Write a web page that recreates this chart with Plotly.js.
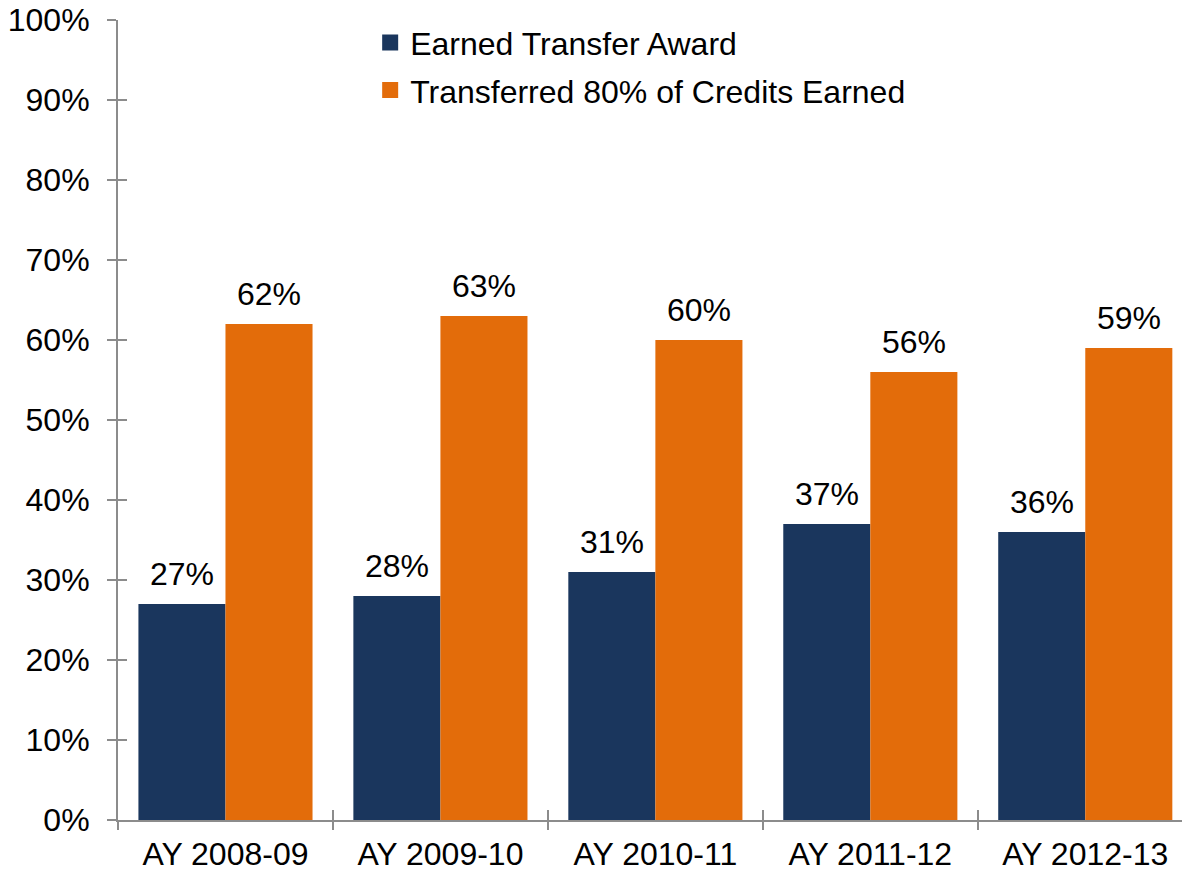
<!DOCTYPE html>
<html>
<head>
<meta charset="utf-8">
<script src="https://cdn.plot.ly/plotly-3.0.1.min.js"></script>
<style>html,body{margin:0;padding:0;background:#fff;overflow:hidden}</style>
</head>
<body>
<div id="chart" style="width:1182px;height:872px"></div>
<script>
const categories = ["AY 2008-09", "AY 2009-10", "AY 2010-11", "AY 2011-12", "AY 2012-13"];
const earnedAward = [27, 28, 31, 37, 36];
const transferred80 = [62, 63, 60, 56, 59];
const seriesNames = ["Earned Transfer Award", "Transferred 80% of Credits Earned"];
const yTickVals = [0, 10, 20, 30, 40, 50, 60, 70, 80, 90, 100];

const FONT = "Liberation Sans, Arial, Helvetica, sans-serif";
const BLUE = "#1a365d";
const ORANGE = "#e36c0a";
const AXIS = "#8c8c8c";
const FS = 32;
const OFF = 0.2025;

const boundaries = categories.map((c, i) => i - 0.5);

const traces = [
  {type: "bar", name: seriesNames[0], x: categories, y: earnedAward,
   marker: {color: BLUE, line: {width: 0}}, showlegend: false, hoverinfo: "skip"},
  {type: "bar", name: seriesNames[1], x: categories, y: transferred80,
   marker: {color: ORANGE, line: {width: 0}}, showlegend: false, hoverinfo: "skip"},
  {type: "scatter", mode: "markers", name: seriesNames[0], x: [null], y: [null],
   marker: {symbol: "square", size: 16, color: BLUE}, legendgroup: "a", hoverinfo: "skip"},
  {type: "scatter", mode: "markers", name: seriesNames[1], x: [null], y: [null],
   marker: {symbol: "square", size: 16, color: ORANGE}, legendgroup: "b", hoverinfo: "skip"},
  {type: "scatter", x: [null], y: [null], xaxis: "x2", yaxis: "y2", showlegend: false, hoverinfo: "skip"}
];

const annotations = [];
[earnedAward, transferred80].forEach((vals, s) => {
  vals.forEach((v, i) => {
    annotations.push({
      x: i + (s === 0 ? -OFF : OFF), y: v, xref: "x", yref: "y",
      text: v + "%", showarrow: false, yanchor: "bottom", yshift: 10,
      font: {family: FONT, size: FS, color: "#000"}
    });
  });
});

const layout = {
  width: 1182, height: 872,
  margin: {l: 118, r: 0, t: 20, b: 52, pad: 0},
  paper_bgcolor: "#fff", plot_bgcolor: "#fff",
  font: {family: FONT, size: FS, color: "#000"},
  barmode: "group", bargap: 0.19, bargroupgap: 0,
  showlegend: true,
  legend: {x: 0.237, y: 1.006, xanchor: "left", yanchor: "top",
           font: {family: FONT, size: FS, color: "#000"},
           traceorder: "grouped", tracegroupgap: 3, bgcolor: "rgba(0,0,0,0)",
           itemsizing: "trace"},
  xaxis: {type: "category", range: [-0.5, 4.45], tickson: "boundaries",
          ticks: "outside", ticklen: 8, tickwidth: 2, tickcolor: AXIS,
          showline: true, linecolor: AXIS, linewidth: 2,
          showgrid: false, zeroline: false, ticklabelstandoff: 5,
          tickfont: {family: FONT, size: FS, color: "#000"}},
  xaxis2: {overlaying: "x", type: "linear", range: [-0.5, 4.45],
           tickmode: "array", tickvals: boundaries, ticks: "inside",
           ticklen: 10, tickwidth: 2, tickcolor: AXIS,
           showticklabels: false, showgrid: false, zeroline: false, showline: false},
  yaxis: {range: [0, 100], tickmode: "array", tickvals: yTickVals,
          ticktext: yTickVals.map(v => v + "%"),
          ticks: "outside", ticklen: 9, tickwidth: 2, tickcolor: AXIS,
          showline: true, linecolor: AXIS, linewidth: 2,
          showgrid: false, zeroline: false, ticklabelstandoff: 11,
          tickfont: {family: FONT, size: FS, color: "#000"}},
  yaxis2: {overlaying: "y", range: [0, 100], tickmode: "array", tickvals: yTickVals,
           ticks: "inside", ticklen: 9, tickwidth: 2, tickcolor: AXIS,
           showticklabels: false, showgrid: false, zeroline: false, showline: false},
  annotations: annotations
};

Plotly.newPlot("chart", traces, layout, {displayModeBar: false, staticPlot: true});
</script>
</body>
</html>
